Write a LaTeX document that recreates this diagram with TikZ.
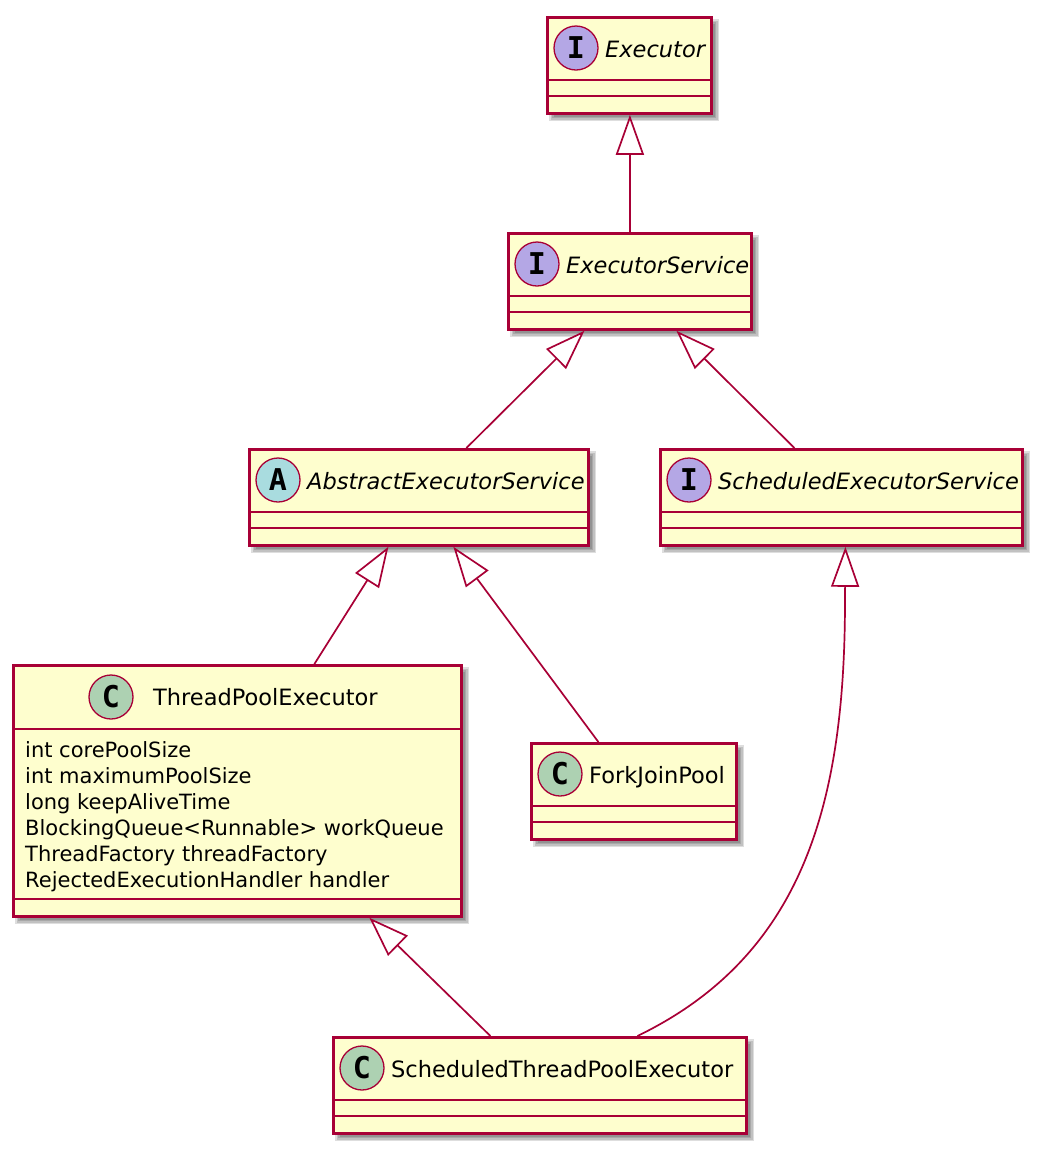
\documentclass[tikz,border=0pt]{standalone}
\usepackage{fontspec}
\setmainfont{DejaVu Sans}
\newfontfamily\letterfont{DejaVu Sans Mono}
\usetikzlibrary{arrows.meta,calc}
\definecolor{umlred}{HTML}{A80036}
\definecolor{umlfill}{HTML}{FEFECE}
\definecolor{ifcol}{HTML}{B4A7E5}
\definecolor{abcol}{HTML}{A9DCDF}
\definecolor{clcol}{HTML}{ADD1B2}
\tikzset{
 umlbox/.style={draw=umlred, fill=umlfill, line width=2.8pt, inner sep=0pt, anchor=north west},
 sepline/.style={draw=umlred, line width=2.6pt},
 spot/.style={circle, draw=umlred, line width=1.3pt, minimum size=44pt, inner sep=0pt, font=\letterfont\bfseries\fontsize{30}{30}\selectfont},
 ititle/.style={anchor=base west, inner sep=0pt, font=\fontsize{22.5}{27}\selectfont\itshape},
 ctitle/.style={anchor=base west, inner sep=0pt, font=\fontsize{22.5}{27}\selectfont},
 attr/.style={anchor=base west, inner sep=0pt, font=\fontsize{21}{26}\selectfont},
 inh/.style={draw=umlred, line width=1.7pt, -{Triangle[length=40pt,width=28pt,fill=white]}},
}
\newcommand\shadowrect[4]{%
  \foreach \d in {0,1.5,3,4.5,6}{%
    \fill[black, opacity=0.13] ({#1+9-\d},{-#2-9+\d}) rectangle ({#3+3+\d},{-#4-3-\d});
  }}
\newcommand\sepat[2]{\draw[sepline] ([yshift=-#2pt]#1.north west) -- ([yshift=-#2pt]#1.north east);}
\begin{document}
\begin{tikzpicture}[x=1pt,y=1pt]
\fill[white] (0,0) rectangle (1041,-1152);
\useasboundingbox (0,0) rectangle (1041,-1152);

% Executor
\shadowrect{546}{16}{710}{112}
\node[umlbox, minimum width=164pt, minimum height=96pt] (ex) at (546,-16) {};
\sepat{ex}{64}\sepat{ex}{80}
\node[spot, fill=ifcol] (ex-s) at (576,-48) {I};
\node[ititle] (ex-t) at (605,-57) {Executor};

% ExecutorService
\shadowrect{507}{232}{750}{328}
\node[umlbox, minimum width=243pt, minimum height=96pt] (es) at (507,-232) {};
\sepat{es}{64}\sepat{es}{80}
\node[spot, fill=ifcol] (es-s) at (537,-264) {I};
\node[ititle] (es-t) at (566,-273) {ExecutorService};

% AbstractExecutorService
\shadowrect{248}{448}{587}{544}
\node[umlbox, minimum width=339pt, minimum height=96pt] (aes) at (248,-448) {};
\sepat{aes}{64}\sepat{aes}{80}
\node[spot, fill=abcol] (aes-s) at (278,-480) {A};
\node[ititle] (aes-t) at (307,-489) {AbstractExecutorService};

% ScheduledExecutorService
\shadowrect{659}{448}{1021}{544}
\node[umlbox, minimum width=362pt, minimum height=96pt] (ses) at (659,-448) {};
\sepat{ses}{64}\sepat{ses}{80}
\node[spot, fill=ifcol] (ses-s) at (689,-480) {I};
\node[ititle] (ses-t) at (718,-489) {ScheduledExecutorService};

% ThreadPoolExecutor
\shadowrect{12}{664}{460}{915}
\node[umlbox, minimum width=448pt, minimum height=251pt] (tpe) at (12,-664) {};
\sepat{tpe}{65}\sepat{tpe}{235}
\node[spot, fill=clcol] (tpe-s) at (111,-697) {C};
\node[ctitle] (tpe-t) at (153,-705) {ThreadPoolExecutor};
\node[attr] (tpe-a1) at (25,-757) {int corePoolSize};
\node[attr] (tpe-a2) at (25,-783) {int maximumPoolSize};
\node[attr] (tpe-a3) at (25,-809) {long keepAliveTime};
\node[attr] (tpe-a4) at (25,-835) {BlockingQueue<Runnable> workQueue};
\node[attr] (tpe-a5) at (25,-861) {ThreadFactory threadFactory};
\node[attr] (tpe-a6) at (25,-887) {RejectedExecutionHandler handler};

% ForkJoinPool
\shadowrect{530}{742}{735}{838}
\node[umlbox, minimum width=205pt, minimum height=96pt] (fjp) at (530,-742) {};
\sepat{fjp}{64}\sepat{fjp}{80}
\node[spot, fill=clcol] (fjp-s) at (560,-774) {C};
\node[ctitle] (fjp-t) at (589,-783) {ForkJoinPool};

% ScheduledThreadPoolExecutor
\shadowrect{332}{1036}{745}{1132}
\node[umlbox, minimum width=413pt, minimum height=96pt] (stpe) at (332,-1036) {};
\sepat{stpe}{64}\sepat{stpe}{80}
\node[spot, fill=clcol] (stpe-s) at (362,-1068) {C};
\node[ctitle] (stpe-t) at (391,-1077) {ScheduledThreadPoolExecutor};

% inheritance connectors
\draw[inh] (es.north) -- (es.north |- ex.south);
\draw[inh] ([xshift=47.5pt]aes.north) -- ([xshift=-45.5pt]es.south);
\draw[inh] ([xshift=-47pt]ses.north) -- ([xshift=46.5pt]es.south);
\draw[inh] ([xshift=77pt]tpe.north) -- ([xshift=-30.5pt]aes.south);
\draw[inh] ([xshift=-35.5pt]fjp.north) -- ([xshift=34.5pt]aes.south);
\draw[inh] ([xshift=-49.5pt]stpe.north) -- ([xshift=132pt]tpe.south);
\draw[inh] ([xshift=97.5pt]stpe.north) .. controls (805,-955) and (845,-800) .. (845,-600) -- ([xshift=4pt]ses.south);
\end{tikzpicture}
\end{document}
